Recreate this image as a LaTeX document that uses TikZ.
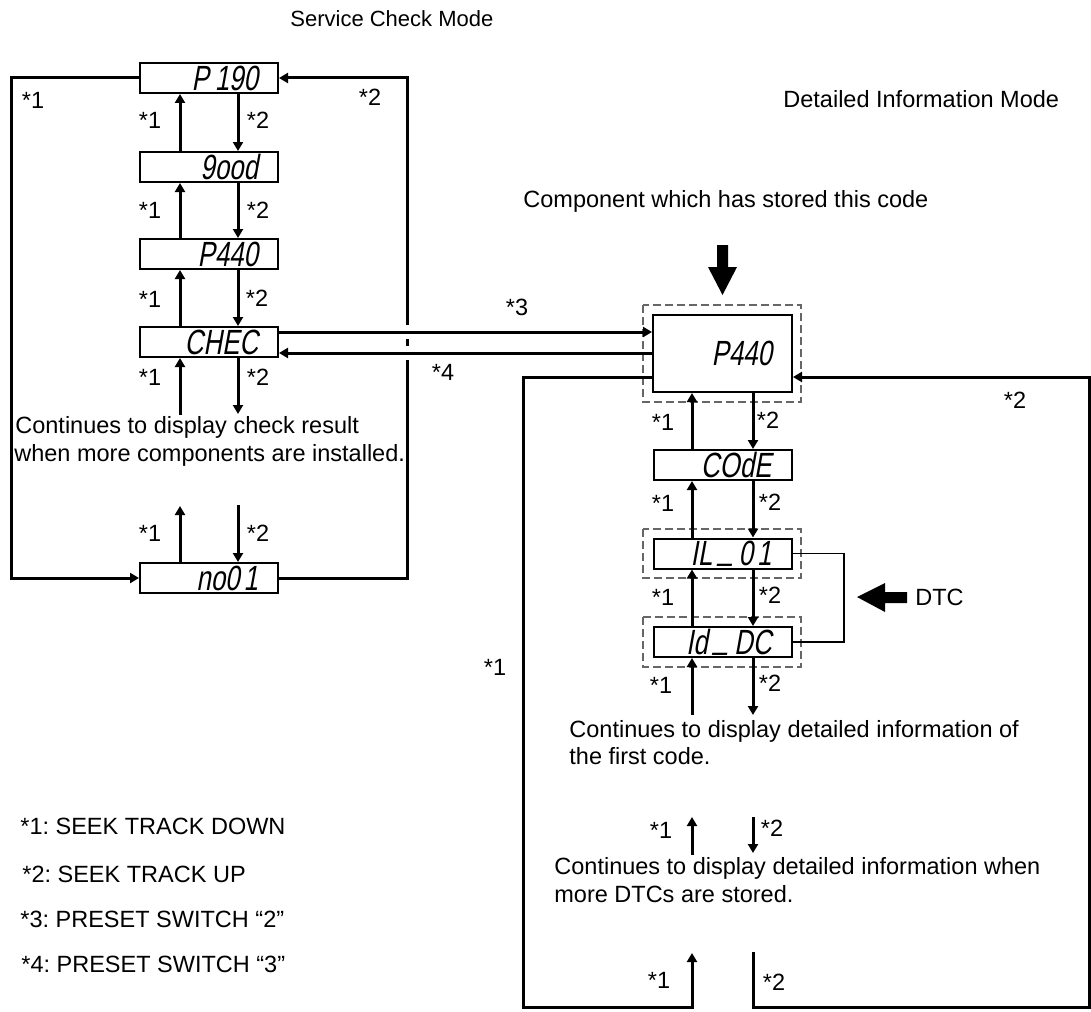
\documentclass[tikz,border=0pt]{standalone}
\usepackage{fontspec}
\setmainfont{Liberation Sans}
\newfontfamily\lcdfont[FakeSlant=0.18,FakeStretch=0.74]{Liberation Sans}
\usetikzlibrary{arrows.meta}
\newcommand{\lcdus}{\hspace{3pt}\raisebox{3.2pt}{\_}\hspace{3pt}}

\begin{document}
\frenchspacing
\begin{tikzpicture}[x=0.5pt,y=-0.5pt,
  every node/.style={inner sep=0pt},
  txt/.style={font=\fontsize{11.75}{14}\selectfont, anchor=base west},
  lbl/.style={font=\fontsize{11.75}{14}\selectfont},
  lcd/.style={draw, line width=1pt, rectangle, minimum height=15pt, inner xsep=10pt, inner ysep=0pt, text width=49pt, align=right, font=\fontsize{17.5}{17.5}\lcdfont},
  bigbox/.style={lcd, minimum height=38.5pt, text width=49.5pt},
  dashbox/.style={draw=black!60, line width=0.7pt, dash pattern=on 4pt off 2pt},
  conn/.style={line width=1.5pt, -{Triangle[length=4.5pt,width=5pt]}},
  thinline/.style={line width=0.6pt},
]
\useasboundingbox (0,0) rectangle (1091,1011);

% helper coordinates
\coordinate (uL) at (180,0);
\coordinate (dL) at (238,0);
\coordinate (uR) at (692,0);
\coordinate (dR) at (753,0);
\coordinate (h3) at (0,332);
\coordinate (h4) at (0,353);
\coordinate (hL) at (0,377);

% titles
\node[txt, font=\fontsize{11}{13}\selectfont] (t1) at (290,27) {Service Check Mode};
\node[txt] (t2) at (783,108) {Detailed Information Mode};
\node[txt] (t3) at (523,207) {Component which has stored this code};

% left column boxes
\node[lcd] (p190) at (209,78) {P\hspace{3pt}190};
\node[lcd] (good) at (209,167) {9ood};
\node[lcd] (p440a) at (209,254) {P440};
\node[lcd] (chec) at (209,342) {CHEC};
\node[lcd] (no01) at (209,578) {no0\hspace{2pt}1};

% right column boxes
\node[bigbox] (p440b) at (722.5,353.5) {P440};
\node[lcd] (code) at (722.5,465) {COdE};
\node[lcd] (il01) at (722.5,553.5) {IL\lcdus0\hspace{2pt}1};
\node[lcd] (iddc) at (722.5,642) {Id\lcdus DC};

% dashed frames
\draw[dashbox] (643,305) rectangle (801,402);
\draw[dashbox] (643,529) rectangle (801,578);
\draw[dashbox] (643,617) rectangle (801,667);

% left column connectors
\draw[conn] (good.north -| uL) -- (p190.south -| uL);
\draw[conn] (p190.south -| dL) -- (good.north -| dL);
\draw[conn] (p440a.north -| uL) -- (good.south -| uL);
\draw[conn] (good.south -| dL) -- (p440a.north -| dL);
\draw[conn] (chec.north -| uL) -- (p440a.south -| uL);
\draw[conn] (p440a.south -| dL) -- (chec.north -| dL);
\coordinate (cA) at (180,415);
\coordinate (cB) at (238,414);
\coordinate (cC) at (180,506);
\coordinate (cD) at (238,505);
\draw[conn] (cA) -- (chec.south -| uL);
\draw[conn] (chec.south -| dL) -- (cB);
\draw[conn] (no01.north -| uL) -- (cC);
\draw[conn] (cD) -- (no01.north -| dL);

% left loops
\coordinate (lBL) at (11,578);
\coordinate (rTR) at (407,78);
\draw[conn] (p190.west) -| (lBL) -- (no01.west);
\draw[conn] (no01.east) -| (rTR) -- (p190.east);

% crossings with gaps
\fill[white] (401,325) rectangle (413,339);
\fill[white] (401,346) rectangle (413,360);
\draw[conn] (chec.east |- h3) -- (p440b.west |- h3);
\draw[conn] (p440b.west |- h4) -- (chec.east |- h4);

% right column connectors
\draw[conn] (code.north -| uR) -- (p440b.south -| uR);
\draw[conn] (p440b.south -| dR) -- (code.north -| dR);
\draw[conn] (il01.north -| uR) -- (code.south -| uR);
\draw[conn] (code.south -| dR) -- (il01.north -| dR);
\draw[conn] (iddc.north -| uR) -- (il01.south -| uR);
\draw[conn] (il01.south -| dR) -- (iddc.north -| dR);
\coordinate (cE) at (692,715);
\coordinate (cF) at (753,715);
\coordinate (cG) at (692,855);
\coordinate (cH) at (692,817);
\coordinate (cI) at (753,817);
\coordinate (cJ) at (753,853);
\draw[conn] (cE) -- (iddc.south -| uR);
\draw[conn] (iddc.south -| dR) -- (cF);
\draw[conn] (cG) -- (cH);
\draw[conn] (cI) -- (cJ);

% big loops
\coordinate (cBL) at (523,1007);
\coordinate (cUp) at (692,953);
\coordinate (cDn) at (753,952);
\coordinate (cBR) at (1089,1007);
\draw[conn] (p440b.west |- hL) -| (cBL) -| (cUp);
\draw[conn] (cDn) |- (cBR) |- (p440b.east |- hL);

% DTC bracket
\coordinate (cDTC) at (844,642);
\draw[thinline] (il01.east) -| (cDTC) -- (iddc.east);

% block arrows
\fill (717,245) -- (728,245) -- (728,267) -- (737,267) -- (722.5,295) -- (708,267) -- (717,267) -- cycle;
\fill (857,597) -- (885,583) -- (885,592) -- (907,592) -- (907,603) -- (885,603) -- (885,612) -- cycle;
\node[txt] (dtc) at (915,605) {DTC};

% texts
\node[txt] (t4a) at (15,433) {Continues to display check result};
\node[txt] (t4b) at (14,461) {when more components are installed.};
\node[txt] (t5a) at (569,737) {Continues to display detailed information of};
\node[txt] (t5b) at (569,764) {the first code.};
\node[txt] (t6a) at (554,874) {Continues to display detailed information when};
\node[txt] (t6b) at (554,902) {more DTCs are stored.};

% legend
\node[txt] (k1) at (20,834) {*1: SEEK TRACK DOWN};
\node[txt] (k2) at (22,882) {*2: SEEK TRACK UP};
\node[txt] (k3) at (20,927) {*3: PRESET SWITCH “2”};
\node[txt] (k4) at (21,972) {*4: PRESET SWITCH “3”};

% labels
\node[lbl] (a1) at (33,100) {*1};
\node[lbl] (a2) at (370,97) {*2};
\node[lbl] (b1) at (150,120) {*1};
\node[lbl] (b2) at (258,120) {*2};
\node[lbl] (b3) at (150,210) {*1};
\node[lbl] (b4) at (258,210) {*2};
\node[lbl] (b5) at (150,299) {*1};
\node[lbl] (b6) at (257,298) {*2};
\node[lbl] (b7) at (150,377) {*1};
\node[lbl] (b8) at (258,377) {*2};
\node[lbl] (b9) at (150,533) {*1};
\node[lbl] (b10) at (258,533) {*2};
\node[lbl] (s3) at (517,307) {*3};
\node[lbl] (s4) at (443,372) {*4};
\node[lbl] (r1) at (495,667) {*1};
\node[lbl] (r2) at (1015,400) {*2};
\node[lbl] (c1) at (663,422) {*1};
\node[lbl] (c2) at (768,420) {*2};
\node[lbl] (c3) at (663,503) {*1};
\node[lbl] (c4) at (770,502) {*2};
\node[lbl] (c5) at (663,597) {*1};
\node[lbl] (c6) at (770,595) {*2};
\node[lbl] (c7) at (661,685) {*1};
\node[lbl] (c8) at (770,683) {*2};
\node[lbl] (c9) at (661,830) {*1};
\node[lbl] (c10) at (772,828) {*2};
\node[lbl] (c11) at (659,980) {*1};
\node[lbl] (c12) at (774,982) {*2};
\end{tikzpicture}
\end{document}
